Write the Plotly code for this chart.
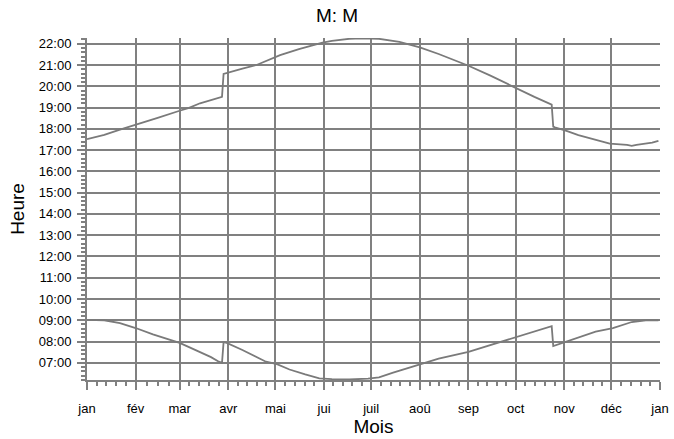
import pandas as pd
import plotly.graph_objects as go

# ---- data (year 2015, local time) ----
sunset_dates = ["2015-01-01", "2015-01-12", "2015-01-22", "2015-02-01", "2015-02-15",
                "2015-03-01", "2015-03-07", "2015-03-14", "2015-03-21", "2015-03-28",
                "2015-03-29", "2015-04-01", "2015-04-10", "2015-04-19", "2015-04-27",
                "2015-05-04", "2015-05-16", "2015-05-31", "2015-06-06", "2015-06-17",
                "2015-06-25", "2015-07-06", "2015-07-19", "2015-08-01", "2015-08-13",
                "2015-09-01", "2015-09-15", "2015-10-03", "2015-10-13", "2015-10-24",
                "2015-10-25", "2015-10-26", "2015-11-02", "2015-11-10", "2015-11-21",
                "2015-11-30", "2015-12-11", "2015-12-14", "2015-12-17", "2015-12-27",
                "2015-12-31"]
sunset_times = ["17:31", "17:43", "17:58", "18:11", "18:31",
                "18:51", "18:59", "19:12", "19:22", "19:30",
                "20:35", "20:39", "20:50", "21:00", "21:14",
                "21:28", "21:45", "22:03", "22:08", "22:14",
                "22:15", "22:14", "22:05", "21:50", "21:31",
                "20:58", "20:30", "19:50", "19:30", "19:08",
                "18:06", "18:04", "17:55", "17:42", "17:29",
                "17:18", "17:15", "17:12", "17:15", "17:21",
                "17:26"]

sunrise_dates = ["2015-01-01", "2015-01-12", "2015-01-22", "2015-02-01", "2015-02-12",
                 "2015-02-22", "2015-03-01", "2015-03-07", "2015-03-14", "2015-03-21",
                 "2015-03-26", "2015-03-28", "2015-03-29", "2015-03-31", "2015-04-10",
                 "2015-04-25", "2015-05-02", "2015-05-10", "2015-05-20", "2015-05-29",
                 "2015-06-06", "2015-06-17", "2015-06-29", "2015-07-06", "2015-07-15",
                 "2015-08-01", "2015-08-13", "2015-09-01", "2015-09-15", "2015-10-03",
                 "2015-10-13", "2015-10-24", "2015-10-25", "2015-10-31", "2015-11-04",
                 "2015-11-21", "2015-12-02", "2015-12-14", "2015-12-23", "2015-12-31"]
sunrise_times = ["09:01", "09:00", "08:52", "08:38", "08:20",
                 "08:06", "07:56", "07:44", "07:30", "07:16",
                 "07:03", "07:00", "07:58", "07:56", "07:36",
                 "07:03", "06:56", "06:41", "06:27", "06:16",
                 "06:14", "06:13", "06:15", "06:19", "06:32",
                 "06:55", "07:12", "07:31", "07:50", "08:13",
                 "08:28", "08:43", "07:47", "07:56", "08:01",
                 "08:28", "08:38", "08:55", "09:00", "09:00"]

month_ticks = ["2015-01-01", "2015-02-01", "2015-03-01", "2015-04-01", "2015-05-01",
               "2015-06-01", "2015-07-01", "2015-08-01", "2015-09-01", "2015-10-01",
               "2015-11-01", "2015-12-01", "2016-01-01"]
month_labels = ["jan", "fév", "mar", "avr", "mai", "jui", "juil", "aoû", "sep", "oct",
                "nov", "déc", "jan"]
hour_ticks = list(range(7, 23))
hour_labels = [f"{h:02d}:00" for h in hour_ticks]

title_text = "M: M"
x_title = "Mois"
y_title = "Heure"


def to_hours(s):
    h, m = s.split(":")
    return int(h) + int(m) / 60.0


# minor x ticks: each month split in 5 parts (february in 4)
minor_x = []
for a, b in zip(month_ticks[:-1], month_ticks[1:]):
    t0, t1 = pd.Timestamp(a), pd.Timestamp(b)
    n = 4 if t0.month == 2 else 5
    for k in range(1, n):
        minor_x.append((t0 + (t1 - t0) * k / n).strftime("%Y-%m-%d %H:%M:%S"))

GRAY = "#808080"
LINE = "#7a7a7a"
FONT = "Liberation Sans, Arial, sans-serif"
W, H = 674, 439

fig = go.Figure()
fig.add_trace(go.Scatter(x=sunset_dates, y=[to_hours(t) for t in sunset_times],
                         mode="lines", line=dict(color=LINE, width=1.8),
                         hoverinfo="skip", showlegend=False))
fig.add_trace(go.Scatter(x=sunrise_dates, y=[to_hours(t) for t in sunrise_times],
                         mode="lines", line=dict(color=LINE, width=1.8),
                         hoverinfo="skip", showlegend=False))

fig.update_layout(
    width=W, height=H,
    margin=dict(l=87, r=14, t=38, b=59),
    paper_bgcolor="white", plot_bgcolor="white",
    font=dict(family=FONT, color="black", size=13),
    title=dict(text=title_text, x=0.5, xanchor="center",
               y=1 - 15 / H, yanchor="middle",
               font=dict(size=19, family=FONT, color="black")),
    showlegend=False,
)
fig.update_xaxes(
    type="date", range=["2015-01-01", "2016-01-01"], automargin=False,
    tickmode="array", tickvals=month_ticks, ticktext=month_labels,
    ticks="outside", ticklen=8, tickwidth=2, tickcolor=GRAY,
    ticklabelstandoff=7,
    showgrid=True, gridcolor=GRAY, gridwidth=2,
    showline=True, linecolor=GRAY, linewidth=2,
    zeroline=False,
    tickfont=dict(size=13, family=FONT, color="black"),
    minor=dict(ticks="outside", ticklen=4, tickwidth=2, tickcolor=GRAY,
               tickmode="array", tickvals=minor_x, showgrid=False),
    title=dict(text=x_title, font=dict(size=19, family=FONT, color="black"), standoff=3),
)
fig.update_yaxes(
    range=[6.19, 22.27], automargin=False,
    tickmode="array", tickvals=hour_ticks, ticktext=hour_labels,
    ticks="outside", ticklen=8, tickwidth=2, tickcolor=GRAY,
    ticklabelstandoff=3,
    showgrid=True, gridcolor=GRAY, gridwidth=2,
    showline=True, linecolor=GRAY, linewidth=2,
    zeroline=False,
    tickfont=dict(size=13, family=FONT, color="black"),
    minor=dict(ticks="outside", ticklen=4, tickwidth=2, tickcolor=GRAY,
               tickmode="linear", tick0=0, dtick=0.2, showgrid=False),
    title=dict(text=y_title, font=dict(size=19, family=FONT, color="black"), standoff=9),
)

fig.write_html("out.html", config={"displayModeBar": False},
               post_script="document.body.style.margin='0';document.body.style.overflow='hidden';")
